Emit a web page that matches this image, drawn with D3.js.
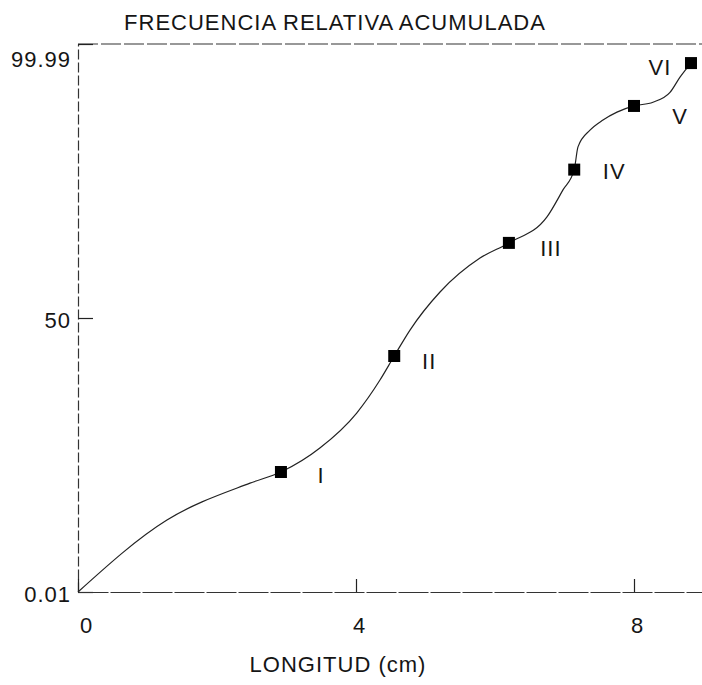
<!DOCTYPE html>
<html>
<head>
<meta charset="utf-8">
<script src="https://cdn.jsdelivr.net/npm/d3@7"></script>
<style>
  html, body { margin: 0; padding: 0; background: #fff; }
  svg { display: block; font-family: "Liberation Sans", Arial, Helvetica, sans-serif; }
</style>
</head>
<body>
<svg id="chart" width="702" height="685"></svg>
<script>
// Cumulative relative frequency (%) of length classes, plotted on probability scale
const classLabels  = ["I", "II", "III", "IV", "V", "VI"];
const classLength  = [2.92, 4.55, 6.20, 7.14, 8.00, 8.82];
const classCumFreq = [1.83, 30.3, 84.6, 97.8, 99.80, 99.973];

// Smooth curve drawn through the class points
const curveLength  = [0, 1.28, 2.475, 2.92, 3.48, 4.01, 4.345, 4.55, 4.777, 5.209, 5.784, 6.20,
                      6.748, 6.978, 7.14, 7.194, 7.367, 7.554, 7.755, 8.00, 8.273, 8.518, 8.662, 8.82];
const curveCumFreq = [0.01, 0.305, 1.25, 1.83, 3.88, 9.86, 20.0, 30.3, 43.5, 63.8, 79.2, 84.6,
                      91.5, 95.9, 97.8, 98.99, 99.46, 99.64, 99.74, 99.80, 99.83, 99.89, 99.946, 99.973];

const xTicks = [0, 4, 8];
const yTicks = [0.01, 50, 99.99];
const yTickText = ["0.01", "50", "99.99"];

const titleText  = "FRECUENCIA RELATIVA ACUMULADA";
const xTitleText = "LONGITUD (cm)";

// Inverse standard normal CDF (Acklam's rational approximation)
function probit(p) {
  const a = [-3.969683028665376e+01, 2.209460984245205e+02, -2.759285104469687e+02,
             1.383577518672690e+02, -3.066479806614716e+01, 2.506628277459239e+00];
  const b = [-5.447609879822406e+01, 1.615858368580409e+02, -1.556989798598866e+02,
             6.680131188771972e+01, -1.328068155288572e+01];
  const c = [-7.784894002430293e-03, -3.223964580411365e-01, -2.400758277161838e+00,
             -2.549671010803348e+00, 4.374664141464968e+00, 2.938163982698783e+00];
  const d = [7.784695709041462e-03, 3.224671290700398e-01, 2.445134137142996e+00,
             3.754408661907416e+00];
  const pl = 0.02425, ph = 1 - pl;
  let q, r;
  if (p < pl) {
    q = Math.sqrt(-2 * Math.log(p));
    return (((((c[0]*q + c[1])*q + c[2])*q + c[3])*q + c[4])*q + c[5]) /
           ((((d[0]*q + d[1])*q + d[2])*q + d[3])*q + 1);
  }
  if (p <= ph) {
    q = p - 0.5; r = q * q;
    return (((((a[0]*r + a[1])*r + a[2])*r + a[3])*r + a[4])*r + a[5]) * q /
           (((((b[0]*r + b[1])*r + b[2])*r + b[3])*r + b[4])*r + 1);
  }
  q = Math.sqrt(-2 * Math.log(1 - p));
  return -(((((c[0]*q + c[1])*q + c[2])*q + c[3])*q + c[4])*q + c[5]) /
          ((((d[0]*q + d[1])*q + d[2])*q + d[3])*q + 1);
}

const plot = { left: 78, right: 703.5, top: 44, bottom: 592 };
const ink = "#151515";

const svg = d3.select("#chart");

const x = d3.scaleLinear().domain([0, 9]).range([plot.left, plot.right]);
const z = d3.scaleLinear()
  .domain([probit(yTicks[0] / 100), probit(yTicks[2] / 100)])
  .range([plot.bottom, plot.top]);
const y = v => z(probit(v / 100));

// frame: top border line
svg.append("line")
  .attr("x1", plot.left).attr("x2", 702)
  .attr("y1", plot.top).attr("y2", plot.top)
  .attr("stroke", "#333").attr("stroke-width", 1.2)
  .attr("stroke-dasharray", "20,3");

// left axis (probability scale)
const yAxis = d3.axisLeft(z)
  .tickValues(yTicks.map(v => probit(v / 100)))
  .tickFormat((d, i) => yTickText[i])
  .tickSizeInner(-15).tickSizeOuter(0).tickPadding(7);

const gy = svg.append("g")
  .attr("transform", `translate(${plot.left},0)`)
  .call(yAxis);
gy.select(".domain").attr("stroke", "#333").attr("stroke-width", 1.2).attr("stroke-dasharray", "10,3");
gy.selectAll(".tick line").attr("stroke", "#222").attr("stroke-width", 1.2);
gy.selectAll(".tick text")
  .attr("font-size", 22).attr("letter-spacing", 1).attr("fill", ink)
  .attr("font-family", "Liberation Sans, Arial, sans-serif")
  .attr("dy", (d, i) => i === 2 ? "1.0em" : "0.45em");

// bottom axis
const xAxis = d3.axisBottom(x)
  .tickValues(xTicks)
  .tickFormat(d3.format("d"))
  .tickSizeInner(-13).tickSizeOuter(0).tickPadding(25);

const gx = svg.append("g")
  .attr("transform", `translate(0,${plot.bottom})`)
  .call(xAxis);
gx.select(".domain").attr("stroke", "#333").attr("stroke-width", 1.2).attr("stroke-dasharray", "30,2");
gx.selectAll(".tick line").attr("stroke", "#222").attr("stroke-width", 1.2);
gx.selectAll(".tick text")
  .attr("font-size", 22).attr("letter-spacing", 1).attr("fill", ink)
  .attr("font-family", "Liberation Sans, Arial, sans-serif")
  .attr("dx", (d, i) => i === 0 ? 8 : 3);

// smooth cumulative curve
const curvePts = curveLength.map((v, i) => [x(v), y(curveCumFreq[i])]);
svg.append("path")
  .datum(curvePts)
  .attr("fill", "none")
  .attr("stroke", "#222")
  .attr("stroke-width", 1.2)
  .attr("d", d3.line().curve(d3.curveMonotoneX));

// class markers
const classPts = classLength.map((v, i) => ({ lx: v, cf: classCumFreq[i], label: classLabels[i] }));
svg.append("g").selectAll("rect")
  .data(classPts)
  .join("rect")
  .attr("x", d => x(d.lx) - 6)
  .attr("y", d => y(d.cf) - 6)
  .attr("width", 12).attr("height", 12)
  .attr("fill", "#000");

// roman numeral labels beside each marker
const labelOffset = [[40, 4], [35, 5], [42, 6], [40, 2], [46, 11], [-31, 4]];
svg.append("g").selectAll("text")
  .data(classPts)
  .join("text")
  .attr("x", (d, i) => x(d.lx) + labelOffset[i][0])
  .attr("y", (d, i) => y(d.cf) + labelOffset[i][1])
  .attr("text-anchor", "middle")
  .attr("dominant-baseline", "central")
  .attr("font-size", 22)
  .attr("letter-spacing", 1)
  .attr("fill", ink)
  .text(d => d.label);

// titles
svg.append("text")
  .attr("x", 335).attr("y", 30)
  .attr("text-anchor", "middle")
  .attr("font-size", 22).attr("letter-spacing", 1).attr("fill", ink)
  .text(titleText);

svg.append("text")
  .attr("x", 338).attr("y", 672)
  .attr("text-anchor", "middle")
  .attr("font-size", 22).attr("letter-spacing", 1).attr("fill", ink)
  .text(xTitleText);
</script>
</body>
</html>
